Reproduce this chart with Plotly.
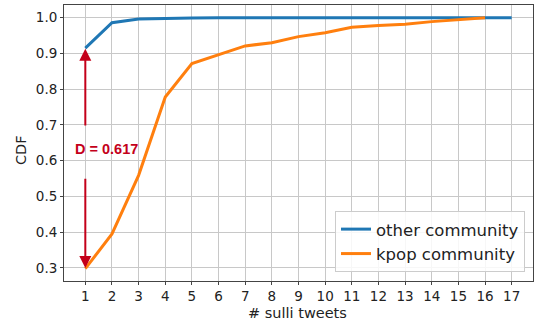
import plotly.graph_objects as go

x_other = list(range(1, 18))
cdf_other = [0.915, 0.986, 0.996, 0.998, 0.999, 0.9995, 1.0, 1.0, 1.0, 1.0, 1.0, 1.0, 1.0, 1.0, 1.0, 1.0, 1.0]
x_kpop = list(range(1, 17))
cdf_kpop = [0.298, 0.395, 0.559, 0.778, 0.872, 0.897, 0.921, 0.930, 0.947, 0.958, 0.973, 0.978, 0.982, 0.989, 0.994, 1.0]
series_names = ["other community", "kpop community"]
d_label = "D = 0.617"
x_title = "# sulli tweets"
y_title = "CDF"
x_ticks = list(range(1, 18))
y_ticks = [0.3, 0.4, 0.5, 0.6, 0.7, 0.8, 0.9, 1.0]

BLUE = "#1f77b4"
ORANGE = "#ff7f0e"
RED = "#c4001a"
FONT = "DejaVu Sans"
W, H = 535, 326
ML, MR, MT, MB = 64, 2, 5, 45

fig = go.Figure()
fig.add_trace(go.Scatter(x=x_other, y=cdf_other, mode="lines", name=series_names[0],
                         line=dict(color=BLUE, width=3)))
fig.add_trace(go.Scatter(x=x_kpop, y=cdf_kpop, mode="lines", name=series_names[1],
                         line=dict(color=ORANGE, width=3)))

x0 = x_kpop[0]
top = cdf_other[0]
bot = cdf_kpop[0]
fig.add_annotation(x=x0, y=top - 0.002, ax=x0, ay=0.694, xref="x", yref="y", axref="x", ayref="y",
                   showarrow=True, arrowhead=2, arrowsize=1.2, arrowwidth=2, arrowcolor=RED, text="")
fig.add_annotation(x=x0, y=bot + 0.002, ax=x0, ay=0.554, xref="x", yref="y", axref="x", ayref="y",
                   showarrow=True, arrowhead=2, arrowsize=1.2, arrowwidth=2, arrowcolor=RED, text="")
fig.add_annotation(x=1.8, y=0.632, xref="x", yref="y", text="<b>" + d_label + "</b>", showarrow=False,
                   font=dict(family="Liberation Sans", size=14.5, color=RED))

pw = W - ML - MR
ph = H - MT - MB
# axis titles placed as paper annotations
fig.add_annotation(x=(297 - ML) / pw, y=-(313 - (H - MB)) / ph, xref="paper", yref="paper",
                   text=x_title, showarrow=False, xanchor="center", yanchor="middle",
                   font=dict(family=FONT, size=14.5, color="#222"))
fig.add_annotation(x=-(ML - 21) / pw, y=((H - MB) - 150) / ph, xref="paper", yref="paper",
                   text=y_title, showarrow=False, xanchor="center", yanchor="middle", textangle=-90,
                   font=dict(family=FONT, size=14.5, color="#222"))

axis_common = dict(showgrid=True, gridcolor="#c8c8c8", gridwidth=1, showline=True, linecolor="#444",
                   linewidth=1, mirror=True, ticks="outside", ticklen=3, tickcolor="#444",
                   tickfont=dict(family=FONT, size=13.5, color="#222"), zeroline=False, automargin=False)

fig.update_layout(
    width=W, height=H,
    margin=dict(l=ML, r=MR, t=MT, b=MB),
    paper_bgcolor="white", plot_bgcolor="white",
    xaxis=dict(range=[0.2, 17.8], tickvals=x_ticks, **axis_common),
    yaxis=dict(range=[0.2635, 1.0355], tickvals=y_ticks, ticktext=[f"{v:.1f}" for v in y_ticks],
               **axis_common),
    legend=dict(x=0.983, y=0.033, xanchor="right", yanchor="bottom",
                bgcolor="rgba(255,255,255,0.85)", bordercolor="#ccc", borderwidth=1,
                font=dict(family=FONT, size=16.5, color="#222"), tracegroupgap=0),
    showlegend=True,
)

fig.write_html("out.html", config={"displayModeBar": False},
               post_script="document.body.style.margin='0px';document.body.style.overflow='hidden';")
